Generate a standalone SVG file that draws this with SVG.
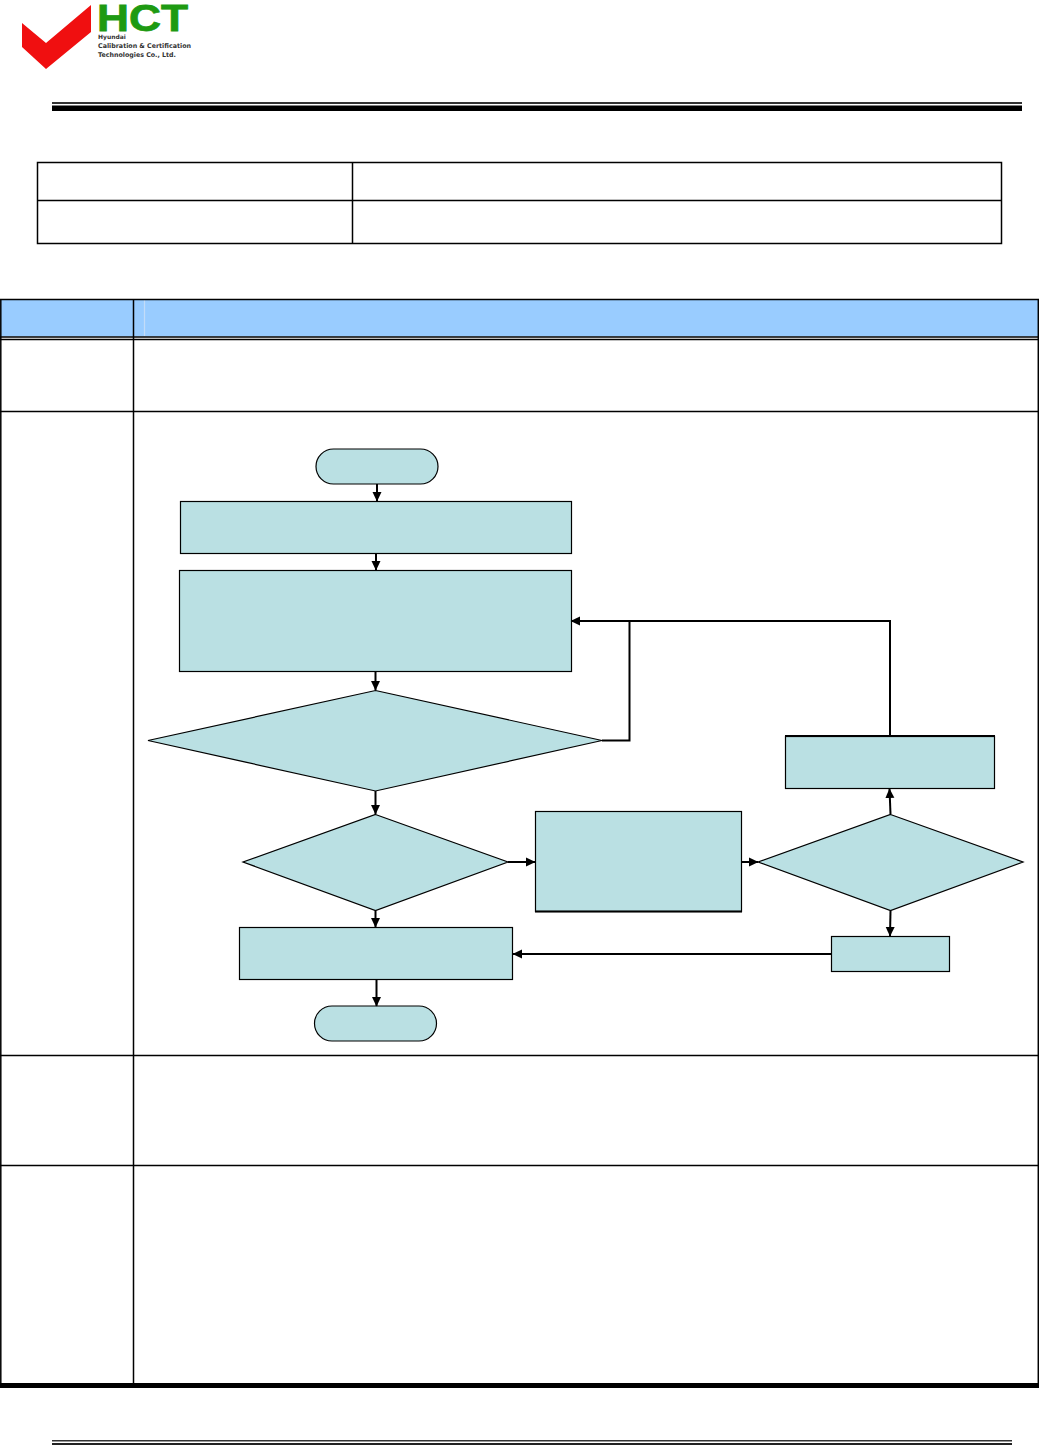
<svg xmlns="http://www.w3.org/2000/svg" width="1039" height="1446" viewBox="0 0 1039 1446">
<defs>
<marker id="a" markerUnits="userSpaceOnUse" markerWidth="10" markerHeight="10" refX="9" refY="5" orient="auto"><path d="M0 0.5L9.5 5L0 9.5Z" fill="#000"/></marker>
</defs>
<style>
.n{fill:#bae0e3;stroke:#000;stroke-width:1.2}
.l{stroke:#000;stroke-width:1.5;fill:none}
.c{stroke:#000;stroke-width:2;fill:none}
.c2{stroke:#000;stroke-width:2;fill:none;marker-end:url(#a)}
text{font-family:"DejaVu Sans",sans-serif;font-weight:bold}
text.big{font-family:"Liberation Sans",sans-serif;font-size:36px;fill:#1e9a12;stroke:#1e9a12;stroke-width:.8}
</style>
<rect width="1039" height="1446" fill="#fff"/>
<g id="logo">
<path d="M22 23V47L46 69L91 32V5L46 43Z" fill="#f00f10"/>
<text class="big" x="97" y="31" textLength="91" lengthAdjust="spacingAndGlyphs">HCT</text>
<text x="98" y="38.500" font-size="6" fill="#333">Hyundai</text>
<text x="98" y="48" font-size="6.500" fill="#333" textLength="93" lengthAdjust="spacingAndGlyphs">Calibration &amp; Certification</text>
<text x="98" y="57" font-size="6.500" fill="#333" textLength="78" lengthAdjust="spacingAndGlyphs">Technologies Co., Ltd.</text>
</g>
<g id="header-rule"><rect x="52" y="102" width="970" height="2" fill="#333"/><rect x="52" y="105.500" width="970" height="5.500" fill="#000"/></g>
<g id="info-table">
<rect x="37.500" y="162.500" width="964" height="81" fill="#fff" class="l"/>
<path class="l" d="M37.500 200.500H1001.500M352.500 162.500V243.500"/>
</g>
<g id="main-table">
<rect x="0.500" y="299.500" width="1038" height="37" fill="#9cf"/>
<path d="M144.500 300V336" stroke="#c3dcf8" stroke-width="1.200"/>
<path class="l" d="M0 299.500H1039M0 337H1039M0 339.500H1039M0 411.500H1039M0 1055.500H1039M0 1165.500H1039M0.800 299V1385M1038.300 299V1385M133.500 299V1385"/>
<rect x="0" y="1383" width="1039" height="5" fill="#000"/>
</g>
<g id="footer-rule"><rect x="52" y="1440" width="960" height="1.500" fill="#333"/><rect x="52" y="1443" width="960" height="2" fill="#222"/></g>
<g id="start"><rect class="n" x="316" y="449" width="122" height="35" rx="17.500"/></g>
<g id="step1"><rect class="n" x="180.500" y="501.500" width="391" height="52"/></g>
<g id="step2"><rect class="n" x="179.500" y="570.500" width="392" height="101"/></g>
<g id="decision1"><path class="n" d="M375.500 690.500L602 740.500L375.500 791L148 740.500Z"/></g>
<g id="decision2"><path class="n" d="M375.500 814.500L508 862L375.500 910.500L243 862Z"/></g>
<g id="step3"><rect class="n" x="535.500" y="811.500" width="206" height="100"/><path d="M535 911.500H742" stroke="#000" stroke-width="2"/></g>
<g id="decision3"><path class="n" d="M890.500 814.500L1023 862L890.500 910.500L758 862Z"/></g>
<g id="step4"><rect class="n" x="785.500" y="736.500" width="209" height="52"/><path d="M785 736H995" stroke="#000" stroke-width="2"/></g>
<g id="step5"><rect class="n" x="831.500" y="936.500" width="118" height="35"/></g>
<g id="step6"><rect class="n" x="239.500" y="927.500" width="273" height="52"/></g>
<g id="end"><rect class="n" x="314.500" y="1006" width="122" height="35" rx="17.500"/></g>
<g id="connectors">
<path class="c2" d="M377 484V501"/>
<path class="c2" d="M376 554V570"/>
<path class="c2" d="M375.500 672V690"/>
<path class="c2" d="M375.500 791V814"/>
<path class="c2" d="M375.500 911V927"/>
<path class="c2" d="M376.500 980V1006"/>
<path class="c2" d="M508 862H535"/>
<path class="c2" d="M741 862H758"/>
<path class="c2" d="M890.500 814L889.500 789"/>
<path class="c2" d="M890.500 911L890 936"/>
<path class="c2" d="M831 954H513"/>
<path class="c2" d="M890 736V621H571"/>
<path class="c" d="M602 740.500H629.500V621"/>
</g>
</svg>
